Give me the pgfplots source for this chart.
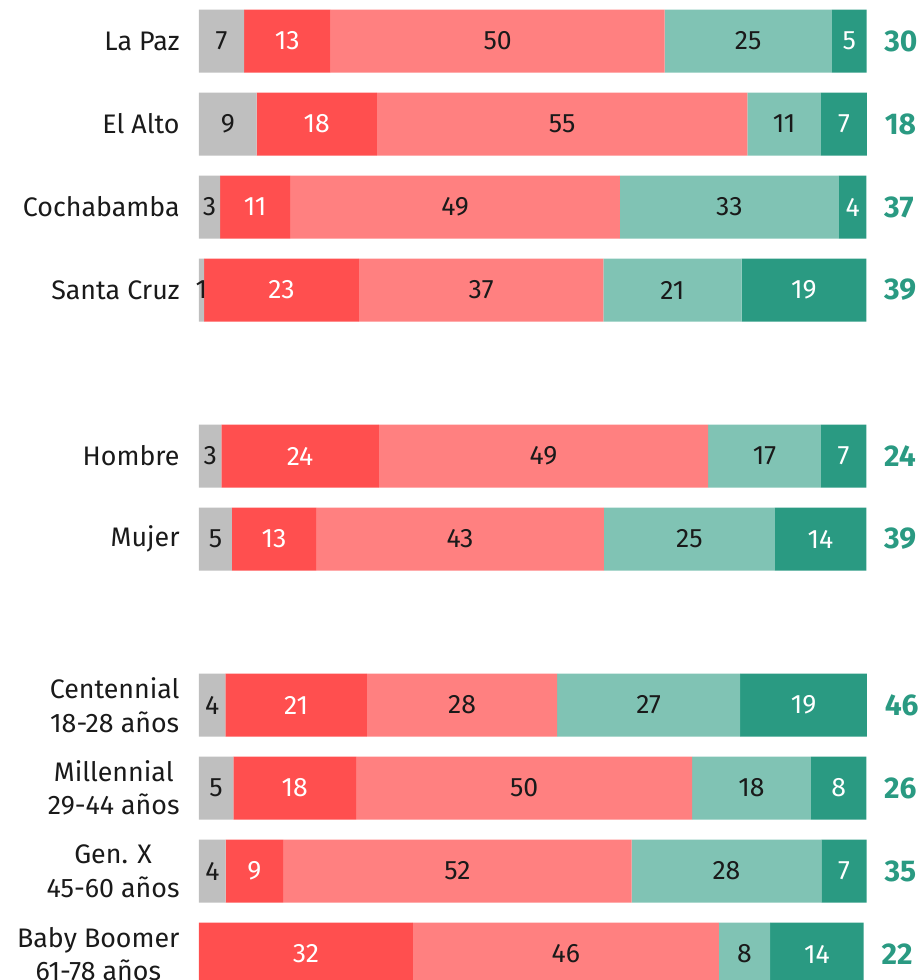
\documentclass[border=0pt]{standalone}
\usepackage{pgfplots}
\pgfplotsset{compat=1.18}
\usepackage{pgfplotstable}
\usepackage{fontspec}
\setmainfont{Fira Sans}
\definecolor{cgray}{HTML}{BFBFBF}
\definecolor{cred}{HTML}{FF4F4F}
\definecolor{clred}{HTML}{FF8080}
\definecolor{clteal}{HTML}{80C3B4}
\definecolor{cdteal}{HTML}{2A9A82}
\definecolor{ctext}{HTML}{1A1A1A}

\pgfplotstableread{
y  a     b      c     d     e     la lb lc ld le t  s
0  6.74  12.98  50.0  25.06 5.2   7  13 50 25 5  30 99.98
1  8.64  18.0   55.5  11.0  6.9   9  18 55 11 7  18 100.04
2  3.15  10.5   49.4  32.8  4.1   3  11 49 33 4  37 99.95
3  0.75  23.2   36.6  20.7  18.7  1  23 37 21 19 39 99.95
5  3.34  23.6   49.3  16.9  6.8   3  24 49 17 7  24 99.94
6  4.94  12.6   43.1  25.6  13.7  5  13 43 25 14 39 99.94
8  3.94  21.2   28.5  27.4  19.0  4  21 28 27 19 46 100.04
9  5.14  18.4   50.3  17.8  8.3   5  18 50 18 8  26 99.94
10 4.0   8.6    52.2  28.4  6.8   4  9  52 28 7  35 100.0
11 0     32.05  45.8  7.7   14.0  {} 32 46 8  14 22 99.55
}\data

\pgfplotsset{
  commonframe/.style={
    at={(0,0)}, anchor=south west,
    scale only axis, width=333.85pt, height=490pt,
    xmin=0, xmax=100, ymin=-0.494, ymax=11.313, y dir=reverse,
    clip=false,
  }
}

\begin{document}
\begin{tikzpicture}
\begin{axis}[
  commonframe,
  xbar stacked, bar width=0.759,
  axis line style={draw=none},
  major tick length=0pt,
  xtick=\empty,
  ytick={0,1,2,3,5,6,8,9,10,11},
  yticklabels={La Paz, El Alto, Cochabamba, Santa Cruz, Hombre, Mujer,
    {Centennial\\18-28 años}, {Millennial\\29-44 años}, {Gen. X\\45-60 años}, {Baby Boomer\\61-78 años}},
  yticklabel style={font=\fontsize{13.4}{16.8}\selectfont, align=center, text=ctext, inner sep=0pt, xshift=-9.5pt},
  point meta=explicit symbolic,
  nodes near coords,
  every node near coord/.append style={font=\fontsize{13.3}{16}\selectfont, inner sep=0pt},
]
\addplot[fill=cgray, draw=none, every node near coord/.append style={text=ctext}] table[x=a, y=y, meta=la] {\data};
\addplot[fill=cred, draw=none, every node near coord/.append style={text=white}] table[x=b, y=y, meta=lb] {\data};
\addplot[fill=clred, draw=none, every node near coord/.append style={text=ctext}] table[x=c, y=y, meta=lc] {\data};
\addplot[fill=clteal, draw=none, every node near coord/.append style={text=ctext}] table[x=d, y=y, meta=ld] {\data};
\addplot[fill=cdteal, draw=none, every node near coord/.append style={text=white}] table[x=e, y=y, meta=le] {\data};
\end{axis}
\begin{axis}[commonframe, hide axis]
\addplot[draw=none, mark=none, point meta=explicit symbolic, nodes near coords,
  every node near coord/.append style={text=cdteal, font=\fontsize{15}{18}\bfseries\selectfont, anchor=west, inner sep=0pt, xshift=8.7pt, yshift=0pt}]
  table[x=s, y=y, meta=t] {\data};
\end{axis}
\pgfresetboundingbox
\path[use as bounding box] (-99.5pt,0) rectangle (361.5pt,490pt);
\end{tikzpicture}
\end{document}
